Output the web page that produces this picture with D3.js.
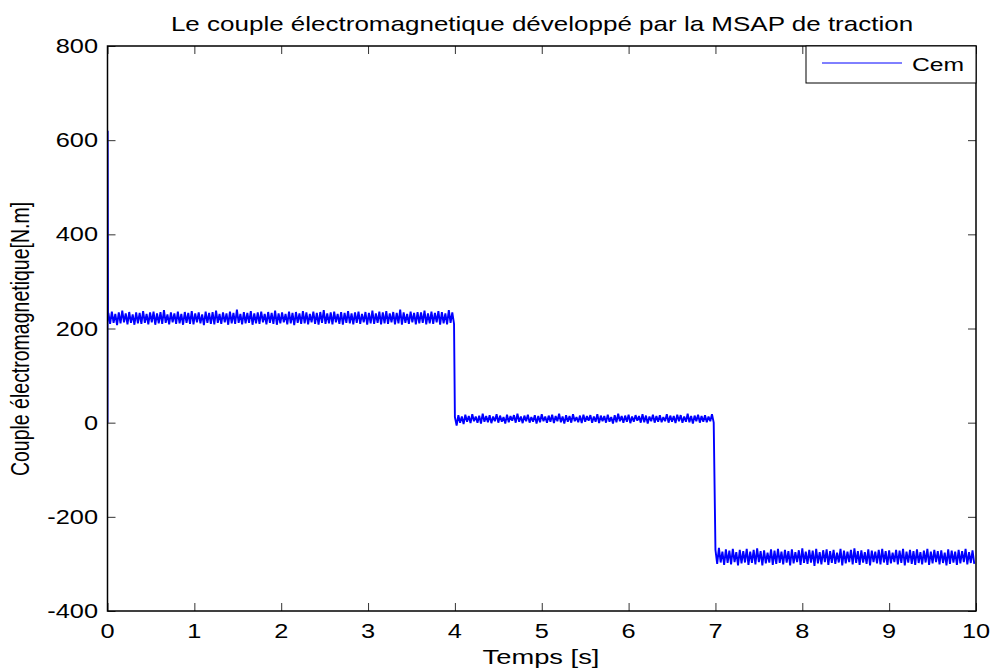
<!DOCTYPE html>
<html>
<head>
<meta charset="utf-8">
<script src="https://cdn.jsdelivr.net/npm/d3@7"></script>
<style>
  html, body { margin: 0; padding: 0; background: #fff; }
  svg { display: block; }
  text { font-family: "Liberation Sans", Arial, Helvetica, sans-serif; fill: #000; }
</style>
</head>
<body>
<svg id="chart" width="991" height="670"></svg>
<script>
// Electromagnetic torque of the traction PMSM, sampled every 0.02 s
const sampleStep = 0.02;

// Start-up transient
const startupTime = [0, 0.002, 0.006];
const startupTorque = [0, 620, 228];

// Segment start times [s]
const segmentStart = [0.01, 4.0, 7.0];

// 0 - 4 s : motoring load (~222 N.m)
const torqueSeg1 = [
  233,210,236,212,231,207,234,211,238,213,232,209,235,212,230,208,234,211,233,210,
  237,212,231,209,234,213,236,208,232,211,235,210,239,212,230,209,234,213,232,210,
  236,211,231,208,235,212,233,210,237,209,232,213,234,211,230,207,236,212,233,210,
  235,209,238,212,231,210,234,213,232,208,236,211,233,210,240,212,231,209,235,211,
  233,212,237,208,232,211,234,210,236,213,231,209,235,212,233,210,238,208,232,211,
  234,213,231,209,236,211,233,207,235,212,232,210,237,211,234,209,231,213,236,210,
  233,208,235,212,239,210,232,211,234,209,236,213,231,210,235,208,233,212,237,211,
  232,209,234,212,236,210,231,213,235,208,233,211,238,210,232,212,236,209,234,211,
  237,210,232,213,235,209,233,211,240,208,234,212,231,210,236,213,233,209,235,211,
  234,212,238,209,232,211,236,210,233,213,237,208,235,211,232,209,239,212,234,210
];

// 4 - 7 s : no load (~7 N.m)
const torqueSeg2 = [
  12,-6,16,0,13,-3,17,2,14,-1,18,3,13,0,15,-2,19,2,14,1,
  16,-1,13,3,18,0,15,2,12,-2,17,1,14,4,16,0,19,2,13,-1,
  15,3,17,0,12,2,16,-2,14,1,18,3,13,0,15,2,17,-1,14,3,
  19,1,13,-2,16,2,14,0,18,3,12,1,15,-1,17,2,14,4,16,0,
  13,2,18,-1,15,3,14,0,17,2,12,-2,16,1,19,3,14,0,15,2,
  17,-1,13,2,16,4,14,0,18,1,15,-2,13,3,17,0,14,2,16,1,
  12,3,18,0,15,2,14,-1,17,3,16,0,13,2,19,1,14,-2,15,3,
  17,0,14,2,16,1,13,3,18,0
];

// 7 - 10 s : braking (~-286 N.m)
const torqueSeg3 = [
  -270,-300,-266,-297,-274,-302,-269,-298,-272,-301,-268,-296,-275,-303,-270,-299,-273,-297,-268,-302,
  -274,-298,-270,-301,-267,-296,-273,-303,-271,-299,-276,-297,-269,-302,-272,-300,-268,-298,-274,-301,
  -270,-297,-273,-303,-269,-299,-275,-296,-271,-302,-267,-298,-274,-300,-270,-297,-272,-304,-268,-299,
  -275,-301,-271,-296,-269,-302,-273,-298,-270,-300,-276,-297,-268,-303,-272,-299,-274,-296,-270,-301,
  -267,-298,-273,-302,-271,-297,-275,-300,-269,-303,-272,-296,-274,-299,-270,-301,-268,-297,-273,-302,
  -271,-299,-276,-296,-270,-301,-272,-298,-268,-303,-274,-297,-270,-300,-273,-302,-269,-298,-275,-301,
  -272,-297,-268,-302,-274,-299,-270,-296,-273,-301,-271,-298,-276,-303,-269,-300,-272,-297,-274,-302,
  -270,-299,-273,-296,-268,-301,-275,-298,-271,-300
];

const xTicks = [0, 1, 2, 3, 4, 5, 6, 7, 8, 9, 10];
const yTicks = [-400, -200, 0, 200, 400, 600, 800];

const titleText = "Le couple électromagnetique développé par la MSAP de traction";
const xLabelText = "Temps [s]";
const yLabelText = "Couple électromagnetique[N.m]";
const legendLabel = "Cem";

// ---- assemble the series ----
const series = [];
startupTime.forEach((t, i) => series.push([t, startupTorque[i]]));
[torqueSeg1, torqueSeg2, torqueSeg3].forEach((seg, k) => {
  seg.forEach((v, i) => series.push([segmentStart[k] + i * sampleStep, v]));
});

// ---- layout ----
const svg = d3.select("#chart");
const plot = { left: 107.5, right: 976, top: 46, bottom: 611 };
const stretch = 1.3;       // horizontal text aspect
const tickLen = 8;

const x = d3.scaleLinear().domain([0, 10]).range([plot.left, plot.right]);
const y = d3.scaleLinear().domain([-400, 800]).range([plot.bottom, plot.top]);

svg.append("rect").attr("width", 991).attr("height", 670).attr("fill", "#fff");

svg.append("defs").append("clipPath").attr("id", "plotClip")
  .append("rect")
  .attr("x", plot.left).attr("y", plot.top)
  .attr("width", plot.right - plot.left).attr("height", plot.bottom - plot.top);

// data line
const line = d3.line().x(d => x(d[0])).y(d => y(d[1]));
svg.append("path")
  .datum(series)
  .attr("clip-path", "url(#plotClip)")
  .attr("fill", "none")
  .attr("stroke", "#0000ff")
  .attr("stroke-width", 1.9)
  .attr("stroke-linejoin", "bevel")
  .attr("d", line);

// axes: inward ticks on all four sides
const axisBottom = d3.axisBottom(x).tickValues(xTicks).tickSizeInner(-tickLen).tickSizeOuter(0).tickFormat("");
const axisTop = d3.axisTop(x).tickValues(xTicks).tickSizeInner(-tickLen).tickSizeOuter(0).tickFormat("");
const axisLeft = d3.axisLeft(y).tickValues(yTicks).tickSizeInner(-tickLen).tickSizeOuter(0).tickFormat("");
const axisRight = d3.axisRight(y).tickValues(yTicks).tickSizeInner(-tickLen).tickSizeOuter(0).tickFormat("");

function styleAxis(g) {
  g.select(".domain").remove();
  g.selectAll(".tick line").attr("stroke", "#333").attr("stroke-width", 1);
}
svg.append("g").attr("transform", `translate(0,${plot.bottom})`).call(axisBottom).call(styleAxis);
svg.append("g").attr("transform", `translate(0,${plot.top})`).call(axisTop).call(styleAxis);
svg.append("g").attr("transform", `translate(${plot.left},0)`).call(axisLeft).call(styleAxis);
svg.append("g").attr("transform", `translate(${plot.right},0)`).call(axisRight).call(styleAxis);

// box
svg.append("rect")
  .attr("x", plot.left).attr("y", plot.top)
  .attr("width", plot.right - plot.left).attr("height", plot.bottom - plot.top)
  .attr("fill", "none").attr("stroke", "#000").attr("stroke-width", 1.5);

// stretched text helper
function label(txt, px, py, size, anchor, extra) {
  return svg.append("text")
    .attr("transform", `translate(${px},${py}) scale(${stretch},1)` + (extra || ""))
    .attr("text-anchor", anchor)
    .attr("font-size", size)
    .text(txt);
}

// tick labels
xTicks.forEach(t => label(String(t), x(t), 638, 19.5, "middle"));
yTicks.forEach(v => label(String(v), 98, y(v) + 7, 19.5, "end"));

// titles
label(titleText, 542, 31, 20, "middle");
label(xLabelText, 541, 664, 21, "middle");
label(yLabelText, 29, 339, 19.5, "middle", " rotate(-90)");

// legend
const leg = { x0: 806, x1: plot.right, y0: plot.top, y1: 83 };
svg.append("rect")
  .attr("x", leg.x0).attr("y", leg.y0)
  .attr("width", leg.x1 - leg.x0).attr("height", leg.y1 - leg.y0)
  .attr("fill", "#fff").attr("stroke", "#000").attr("stroke-width", 1);
svg.append("line")
  .attr("x1", 822).attr("x2", 902).attr("y1", 63).attr("y2", 63)
  .attr("stroke", "#0000ff").attr("stroke-width", 1);
label(legendLabel, 912, 71, 19, "start");
</script>
</body>
</html>
